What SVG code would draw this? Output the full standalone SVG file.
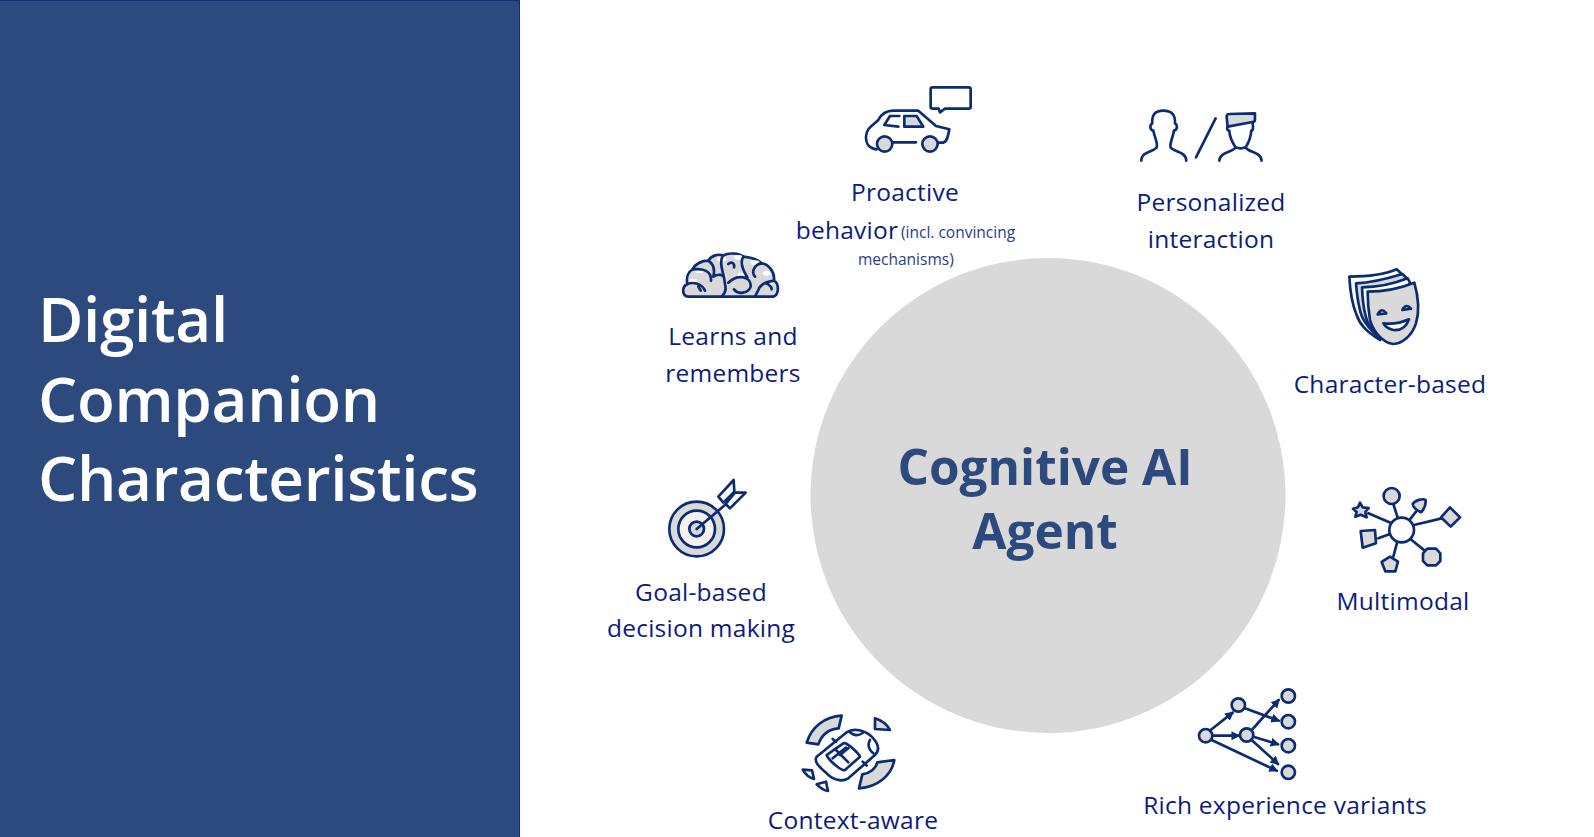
<svg xmlns="http://www.w3.org/2000/svg" width="1594" height="837" viewBox="0 0 1594 837">
<style>
text{font-family:"Open Sans","Noto Sans","Liberation Sans",sans-serif;font-variant-ligatures:none}
.l{font-size:24.5px;fill:#0c1c7e;text-anchor:middle;letter-spacing:.25px}
.s{font-size:15.5px;fill:#2a3a8e}
.t{font-size:62px;fill:#fff;font-weight:600;letter-spacing:-.33px}
.c{font-size:49.5px;font-weight:700;fill:#2c4a7e;text-anchor:middle}
.i{fill:none;stroke:#0b2b72;stroke-width:8;stroke-linecap:round;stroke-linejoin:round}
.g{fill:#d9d9d9}.w{fill:#fff}
</style>
<defs>
<marker id="a" viewBox="0 0 10 10" refX="8" refY="5" markerWidth="3.4" markerHeight="3.4" orient="auto"><path d="M0 0L10 5L0 10Z" fill="#0b2b72"/></marker>
</defs>
<g id="panel"><rect x="0" y="0" width="520" height="837" fill="#2c4a7e"/><path d="M0 .5H519.5V837" fill="none" stroke="#0b2f7a"/>
<text class="t" x="38" y="342">Digital</text><text class="t" x="38" y="422">Companion</text><text class="t" x="38" y="501">Characteristics</text></g>
<g id="core"><circle cx="1048" cy="495.5" r="237.5" fill="#d9d9d9"/><text class="c" x="1045" y="485">Cognitive AI</text><text class="c" x="1045" y="549">Agent</text></g>
<g id="connectors"></g>
<g id="proactive"><g transform="translate(780 70) scale(.3333)" class="i">
<path d="M290 238C268 235 258 225 258 200C258 175 280 165 295 150C305 130 320 122 340 122L415 122L468 168L508 178C505 195 502 215 490 218L476 218M408 217L340 217"/>
<circle class="g" cx="314" cy="222" r="23"/><circle class="g" cx="450" cy="222" r="23"/>
<path d="M358 138L330 138L313 165L355 170"/><path class="g" d="M373 138L410 138L430 170L373 170Z"/>
<path d="M458 52L566 52Q572 52 572 58L572 110Q572 116 566 116L495 116L480 127L476 116L458 116Q452 116 452 110L452 58Q452 52 458 52Z"/></g>
<text class="l" x="905" y="201">Proactive</text><text class="l" x="847" y="239">behavior</text><text class="s" x="901" y="238">(incl. convincing</text><text class="s" x="858" y="265">mechanisms)</text></g>
<g id="personalized"><g transform="translate(780 70) scale(.3333)" class="i">
<path d="M1084 272C1085 245 1115 248 1130 233C1135 222 1125 205 1120 182C1110 180 1108 165 1117 160C1115 135 1125 122 1150 122C1175 122 1187 135 1185 160C1194 165 1192 180 1182 182C1178 205 1168 222 1172 233C1187 248 1218 245 1219 272"/>
<path d="M1248 262L1307 145"/>
<path class="g" d="M1340 140Q1340 132 1348 132L1425 130L1425 150Q1425 155 1418 156L1343 170Z"/>
<path d="M1342 172Q1340 182 1348 182C1350 210 1362 224 1367 232C1358 248 1320 245 1318 272M1418 160Q1422 182 1414 182C1412 210 1402 224 1397 232C1405 248 1443 245 1445 272M1367 232Q1382 238 1397 232"/></g>
<text class="l" x="1211" y="211">Personalized</text><text class="l" x="1211" y="248">interaction</text></g>
<g id="learns"><g transform="translate(660 240) scale(.3333)" class="i">
<path class="g" d="M85 170C65 168 65 140 82 132C78 112 85 95 98 88C105 72 125 62 145 62C155 45 175 42 190 46C205 38 235 38 250 50C265 52 285 52 305 70C325 72 345 95 342 122C358 130 358 165 340 170L195 170L185 170Z"/>
<g fill="#fff" stroke="none"><ellipse cx="118" cy="92" rx="14" ry="7"/><ellipse cx="100" cy="122" rx="12" ry="6"/><ellipse cx="185" cy="58" rx="14" ry="7"/><ellipse cx="235" cy="52" rx="14" ry="7"/><ellipse cx="285" cy="68" rx="14" ry="7"/><ellipse cx="320" cy="100" rx="12" ry="7"/><ellipse cx="245" cy="106" rx="13" ry="7"/><ellipse cx="330" cy="132" rx="10" ry="5"/></g>
<path d="M82 132C100 125 125 130 135 152M98 88C125 85 155 90 153 122M145 62C160 72 165 90 160 110C175 100 190 105 192 112M190 46C178 60 185 85 192 112L197 145C197 158 190 165 185 170M205 72C215 62 225 72 222 82M250 50C240 65 245 85 262 112M205 128C235 100 275 110 272 140C265 160 235 165 222 148M305 70C285 72 272 95 285 110M342 122C320 125 300 135 295 150L285 170M318 130C330 135 335 140 335 148M115 140L122 152"/></g>
<text class="l" x="733" y="345">Learns and</text><text class="l" x="733" y="382">remembers</text></g>
<g id="character"><g transform="translate(1330 260) scale(.3333)" class="i">
<path class="w" d="M58 50C110 50 160 45 200 28L215 42L150 240C110 215 90 195 80 165C65 130 60 90 58 50Z"/>
<path class="g" d="M78 70C125 68 175 55 217 42L232 56L150 235C115 205 95 180 90 150C82 120 80 95 78 70Z"/>
<path class="w" d="M96 82C145 82 190 72 233 55L240 68L150 235C125 210 110 190 105 160C98 130 97 105 96 82Z"/>
<path class="g" d="M113 95C160 95 210 85 253 68C265 110 270 150 258 190C245 230 215 250 190 252C160 250 130 215 120 180C115 150 113 120 113 95Z"/>
<path class="w" d="M143 163Q155 140 169 160Z"/><path class="w" d="M217 150Q228 128 243 146Z"/>
<path class="w" d="M160 190Q200 195 237 178Q225 213 190 210Q170 206 160 190Z"/></g>
<text class="l" x="1390" y="393">Character-based</text></g>
<g id="multimodal"><g transform="translate(1340 480) scale(.3333)" class="i">
<path d="M172 110L160 72M210 118L228 95M222 135L305 115M212 178L258 215M172 185L160 230M150 162L115 175M155 130L85 100"/>
<circle class="w" cx="185" cy="150" r="37"/><circle class="g" cx="155" cy="48" r="24"/>
<path class="g" d="M218 72C225 60 250 55 257 60C258 75 250 90 243 97C232 92 220 85 218 72Z"/>
<path class="g" d="M330 82L360 112L332 140L303 112Z"/>
<path class="g" d="M262 206H288L301 220V243L288 256H262L249 243V220Z"/>
<path class="g" d="M150 230L174 245L166 274H136L125 246Z"/>
<path class="g" d="M62 153L105 150L108 190L68 203Z"/>
<path class="g" d="M60 68L68 82L86 84L76 96L80 112L62 104L46 110L50 96L39 86L54 82Z"/></g>
<text class="l" x="1403" y="610">Multimodal</text></g>
<g id="rich"><g transform="translate(1190 680) scale(.3333)" class="i">
<g marker-end="url(#a)"><path d="M62 150L128 98"/><path d="M68 167L146 167"/><path d="M65 180L260 272"/><path d="M165 85L266 122"/><path d="M188 147L266 60"/><path d="M190 170L264 193"/><path d="M185 180L264 252"/></g>
<circle class="g" cx="47" cy="167" r="20"/><circle class="g" cx="145" cy="75" r="20"/><circle class="g" cx="170" cy="165" r="20"/><circle class="g" cx="295" cy="48" r="20"/><circle class="g" cx="295" cy="125" r="20"/><circle class="g" cx="295" cy="197" r="20"/><circle class="g" cx="295" cy="277" r="20"/></g>
<text class="l" x="1285" y="814">Rich experience variants</text></g>
<g id="context"><g transform="translate(790 705) scale(.3333)" class="i">
<path class="g" d="M155 32L146 70C115 72 95 90 85 118L50 113C65 65 105 35 155 32Z"/>
<path class="g" d="M255 40C280 48 292 60 300 75L255 72Z"/>
<path class="g" d="M313 165C305 210 265 245 207 250L217 208C240 205 258 190 262 172Z"/>
<path d="M38 194L66 196L72 222C58 218 46 208 38 194ZM80 238L108 230L114 258C100 256 90 248 80 238Z"/>
<path d="M80 155L170 82C190 68 225 75 245 95C265 115 270 135 255 150L175 220C155 232 130 225 110 205C90 188 70 170 80 155Z"/>
<path d="M178 80C190 92 205 93 218 84M240 105C232 120 238 135 250 145M128 102L138 110M218 170L230 182"/>
<path d="M110 150L160 115C170 110 205 145 210 155L165 195C155 200 115 165 110 150Z"/><path d="M135 132L175 172M128 160L168 128M150 150L175 130"/></g>
<text class="l" x="853" y="829">Context-aware</text></g>
<g id="goal"><g transform="translate(655 470) scale(.3333)" class="i">
<circle class="g" cx="125" cy="177" r="82"/><circle cx="125" cy="177" r="55" fill="#f4f2ee"/><circle class="g" cx="125" cy="177" r="22"/>
<path d="M125 177L210 105"/>
<path class="w" d="M190 80L236 30L238 65L205 98Z"/><path class="w" d="M212 102L240 68L272 68L225 115Z"/></g>
<text class="l" x="701" y="601">Goal-based</text><text class="l" x="701" y="637">decision making</text></g>
</svg>
